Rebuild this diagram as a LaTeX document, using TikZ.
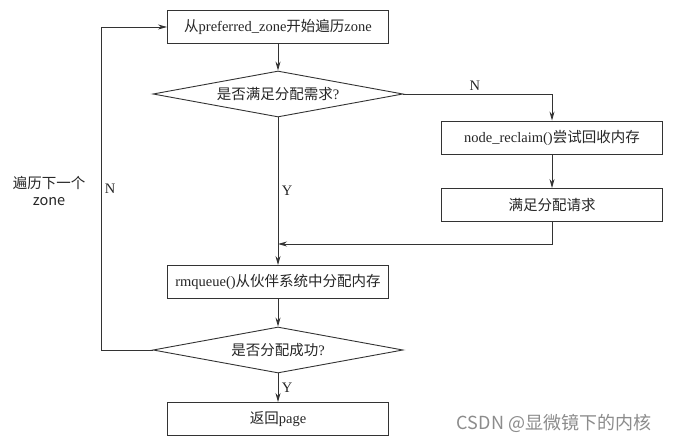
\documentclass[tikz,border=0pt]{standalone}
\usepackage{fontspec}
\setmainfont{Liberation Serif}
\newfontfamily\cjk{Noto Sans CJK SC}
\usetikzlibrary{shapes.geometric,arrows.meta}
\newcommand{\zh}[1]{{\cjk #1}}

\begin{document}
\begin{tikzpicture}[x=1pt,y=-1pt,>={Stealth[length=9pt,width=5pt]},
    every node/.style={text=black!85,font=\fontsize{14.5}{17}\selectfont},
    box/.style={draw=black!80,line width=0.9pt,minimum width=221pt,minimum height=33pt,inner sep=0pt},
    cond/.style={diamond,draw=black!80,line width=0.9pt,aspect=5.4,inner sep=0pt,minimum width=250pt,minimum height=46pt},
    flow/.style={draw=black!80,line width=0.9pt,->}]
  \fill[white] (0,0) rectangle (676,443);
  \useasboundingbox (0,0) rectangle (676,443);

  % main column
  \node[box] (start) at (278,27) {\zh{从}preferred\_zone\zh{开始遍历}zone};
  \node[cond] (check) at (278,94) {\zh{是否满足分配需求}?};
  \node[box] (rmq) at (278,282) {rmqueue()\zh{从伙伴系统中分配内存}};
  \node[cond] (alloc) at (278,350) {\zh{是否分配成功}?};
  \node[box] (ret) at (278,419) {\zh{返回}page};

  % right column
  \node[box] (reclaim) at (552,137.5) {node\_reclaim()\zh{尝试回收内存}};
  \node[box] (satisfy) at (552,205) {\zh{满足分配请求}};

  \coordinate (join) at (278,244);
  \coordinate (back) at (101,27);
  \node[align=center,font=\cjk\fontsize{14.5}{17}\selectfont] (next) at (49,191) {遍历下一个\\zone};
  \node[text=black!45,font=\cjk\fontsize{18}{20}\selectfont] (mark) at (554,423) {CSDN @显微镜下的内核};

  \draw[flow] (start) -- (check);
  \draw[flow] (check.east) -| (reclaim) node[pos=0.24,above] {N};
  \draw[flow] (reclaim) -- (satisfy);
  \draw[flow] (satisfy) |- (join);
  \draw[flow] (check) -- (rmq) node[midway,right] {Y};
  \draw[flow] (rmq) -- (alloc);
  \draw[flow] (alloc) -- (ret) node[midway,right] {Y};
  \draw[flow] (alloc.west) -| (back) node[pos=0.75,right] {N} -- (start.west);
\end{tikzpicture}
\end{document}
